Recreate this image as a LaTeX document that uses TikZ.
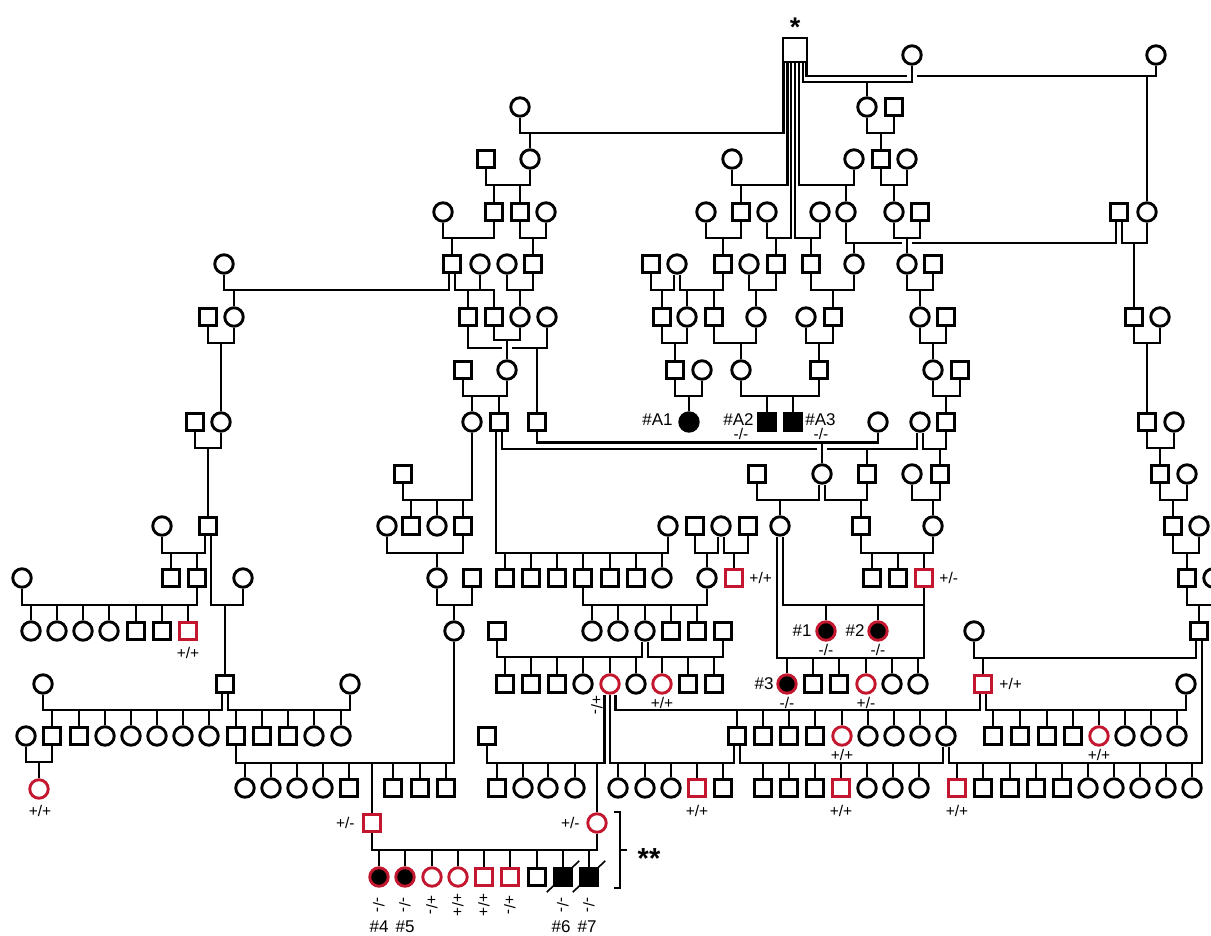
\documentclass[tikz,border=0pt]{standalone}
\usepackage{fontspec}
\setmainfont{Liberation Sans}
\usetikzlibrary{calc}
\definecolor{pedred}{RGB}{196,22,46}
\newcommand\cpl[3]{\draw (#1) -- (#1 |- 0,#3) -| (#2);}
\newcommand\dr[2]{\draw (#1.north |- 0,#2) -- (#1.north);}
\newcommand\drs[2]{\foreach \c in {#1} {\dr{\c}{#2}}}
\begin{document}
\begin{tikzpicture}[x=1pt,y=-1pt,line width=2.9pt,
 male/.style={draw,rectangle,minimum size=17.5pt,inner sep=0pt},
 fem/.style={draw,circle,minimum size=18.5pt,inner sep=0pt},
 maler/.style={male,draw=pedred}, femr/.style={fem,draw=pedred},
 malea/.style={male,fill=black}, fema/.style={fem,fill=black},
 femar/.style={fem,fill=black,draw=pedred},
 lbl/.style={inner sep=0pt,font=\fontsize{17}{17}\selectfont},
 gt/.style={inner sep=0pt,font=\fontsize{15.5}{15}\selectfont},
 gtr/.style={gt,rotate=-90}]
\fill[white] (0,0) rectangle (1211,936);
\useasboundingbox (0,0) rectangle (1211,936);
% ---------- persons ----------
\node[male,minimum size=24pt] (S) at (795,50) {};
\foreach \x in {912,1156} \node[fem] (A\x) at (\x,55) {};
\foreach \x in {520,867} \node[fem] (B\x) at (\x,107) {};
\node[male] (B894) at (894,107) {};
\foreach \x in {486,881} \node[male] (C\x) at (\x,159) {};
\foreach \x in {530,732,854,907} \node[fem] (C\x) at (\x,159) {};
\foreach \x in {494,520,741,920,1119} \node[male] (D\x) at (\x,212) {};
\foreach \x in {443,546,706,767,820,846,894,1147} \node[fem] (D\x) at (\x,212) {};
\foreach \x in {452,533,651,723,776,811,933} \node[male] (E\x) at (\x,264) {};
\foreach \x in {224,480,507,677,749,854,907} \node[fem] (E\x) at (\x,264) {};
\foreach \x in {208,468,494,662,714,833,946,1134} \node[male] (F\x) at (\x,317) {};
\foreach \x in {234,520,547,687,756,806,920,1160} \node[fem] (F\x) at (\x,317) {};
\foreach \x in {463,675,819,960} \node[male] (G\x) at (\x,370) {};
\foreach \x in {507,702,741,933} \node[fem] (G\x) at (\x,370) {};
\foreach \x in {195,499,537,946,1147} \node[male] (H\x) at (\x,422) {};
\foreach \x in {221,472,878,920,1174} \node[fem] (H\x) at (\x,422) {};
\node[fema] (H689) at (689,422) {};
\foreach \x in {767,793} \node[malea] (H\x) at (\x,422) {};
\foreach \x in {403,757,867,940,1160} \node[male] (I\x) at (\x,474) {};
\foreach \x in {822,912,1187} \node[fem] (I\x) at (\x,474) {};
\foreach \x in {208,411,463,695,748,861,1173} \node[male] (J\x) at (\x,526) {};
\foreach \x in {162,387,437,668,721,780,933,1199} \node[fem] (J\x) at (\x,526) {};
\foreach \x in {171,197,472,505,531,557,583,610,636,872,898,1187} \node[male] (K\x) at (\x,578) {};
\foreach \x in {22,243,437,662,707,1213} \node[fem] (K\x) at (\x,578) {};
\foreach \x in {734,924} \node[maler] (K\x) at (\x,578) {};
\foreach \x in {136,162,497,671,697,723,1199} \node[male] (L\x) at (\x,631) {};
\foreach \x in {31,57,83,109,454,592,618,645,974} \node[fem] (L\x) at (\x,631) {};
\node[maler] (L188) at (188,631) {};
\foreach \x in {826,878} \node[femar] (L\x) at (\x,631) {};
\foreach \x in {225,505,531,557,688,714,813,839} \node[male] (M\x) at (\x,684) {};
\foreach \x in {43,350,583,636,892,918,1186} \node[fem] (M\x) at (\x,684) {};
\foreach \x in {610,662,866} \node[femr] (M\x) at (\x,684) {};
\node[femar] (M787) at (787,684) {};
\node[maler] (M983) at (983,684) {};
\foreach \x in {52,79,236,262,288,487,737,763,789,815,993,1020,1047,1073} \node[male] (N\x) at (\x,736) {};
\foreach \x in {26,105,131,157,183,209,314,341,868,894,920,946,1125,1151,1177} \node[fem] (N\x) at (\x,736) {};
\foreach \x in {842,1099} \node[femr] (N\x) at (\x,736) {};
\node[femr] (O39) at (39,789) {};
\foreach \x in {349,393,420,446,497,723,763,789,815,983,1010,1036,1062} \node[male] (O\x) at (\x,788) {};
\foreach \x in {245,271,297,323,523,548,575,618,645,671,867,893,919,1088,1114,1140,1166,1192} \node[fem] (O\x) at (\x,788) {};
\foreach \x in {697,841,957} \node[maler] (O\x) at (\x,788) {};
\node[maler] (P372) at (372,823) {};
\node[femr] (P597) at (597,823) {};
\foreach \x in {379,405} \node[femar] (Q\x) at (\x,877) {};
\foreach \x in {432,458} \node[femr] (Q\x) at (\x,877) {};
\foreach \x in {484,510} \node[maler] (Q\x) at (\x,877) {};
\node[male] (Q537) at (537,877) {};
\foreach \x in {563,589} \node[malea] (Q\x) at (\x,877) {};
% ---------- anchor points for several lines ----------
\foreach \i/\s in {1/-11.5,2/-7.7,3/-3.9,4/0,5/3.9,6/7.8,7/11.6} \coordinate (S\i) at ([xshift=\s pt]S.south);
\foreach \n in {E452,E677,D1119,H499,H920,I822,J208,J721,J780,L645,L1199,M225,M983,N737,N946} {
 \coordinate (\n l) at ([xshift=-3pt]\n.south);
 \coordinate (\n r) at ([xshift=3pt]\n.south);}
\coordinate (M610a) at ([xshift=-5.2pt]M610.south);
\coordinate (M610b) at (M610.south);
\coordinate (M610c) at ([xshift=5.2pt]M610.south);
% ---------- lines: generation of S ----------
\begin{scope}[line width=2.4pt]
\cpl{S1}{B520.south}{133}
\cpl{S2}{C732.south}{185}
\cpl{S3}{D767.south}{238}
\cpl{S4}{D820.south}{238}
\cpl{S5}{C854.south}{185}
\cpl{S6}{A912.south}{82}
\draw (S7) -- (S7 |- 0,76) -- ($(A912.south |- 0,76)+(-5,0)$);
\draw ($(A912.south |- 0,76)+(5,0)$) -- (A1156.south |- 0,76) -- (A1156.south);
\end{scope}
\dr{C530}{133} \dr{D741}{185} \dr{E776}{238} \dr{E811}{238}
\dr{D846}{185} \dr{B867}{82} \dr{D1147}{76}
% ---------- upper rows ----------
\cpl{B867.south}{B894.south}{133} \dr{C881}{133}
\cpl{C486.south}{C530.south}{185} \drs{D494,D520}{185}
\cpl{C881.south}{C907.south}{185} \dr{D894}{185}
\cpl{D443.south}{D494.south}{238} \dr{E452}{238}
\cpl{D520.south}{D546.south}{238} \dr{E533}{238}
\cpl{D706.south}{D741.south}{238} \dr{E723}{238}
\cpl{D894.south}{D920.south}{238} \dr{E907}{238}
\draw (D846.south) -- (D846.south |- 0,243) -- ($(E907.north |- 0,243)+(-5,0)$);
\draw ($(E907.north |- 0,243)+(5,0)$) -- (D1119l |- 0,243) -- (D1119l);
\dr{E854}{243}
\cpl{D1119r}{D1147.south}{243} \dr{F1134}{243}
\cpl{E224.south}{E452l}{290} \dr{F234}{290}
\cpl{E452r}{E480.south}{290} \dr{F468}{290}
\draw (E480.south |- 0,290) -| (F494.north);
\cpl{E507.south}{E533.south}{290} \dr{F520}{290}
\cpl{E651.south}{E677l}{290} \dr{F662}{290}
\cpl{E677r}{E723.south}{290} \drs{F687,F714}{290}
\cpl{E749.south}{E776.south}{290} \dr{F756}{290}
\cpl{E811.south}{E854.south}{290} \dr{F833}{290}
\cpl{E907.south}{E933.south}{290} \dr{F920}{290}
\cpl{F208.south}{F234.south}{343} \dr{H221}{343}
\cpl{F494.south}{F520.south}{340} \dr{G507}{340}
\draw (F468.south) -- (F468.south |- 0,348) -- ($(G507.north |- 0,348)+(-5,0)$);
\draw ($(G507.north |- 0,348)+(5,0)$) -| (F547.south);
\dr{H537}{348}
\cpl{F662.south}{F687.south}{343} \dr{G675}{343}
\cpl{F714.south}{F756.south}{343} \dr{G741}{343}
\cpl{F806.south}{F833.south}{343} \dr{G819}{343}
\cpl{F920.south}{F946.south}{343} \dr{G933}{343}
\cpl{F1134.south}{F1160.south}{343} \dr{H1147}{343}
\cpl{G463.south}{G507.south}{396} \drs{H472,H499}{396}
\cpl{G675.south}{G702.south}{396} \dr{H689}{396}
\cpl{G741.south}{G819.south}{396} \drs{H767,H793}{396}
\cpl{G933.south}{G960.south}{396} \dr{H946}{396}
% ---------- middle rows ----------
\cpl{H195.south}{H221.south}{448} \dr{J208}{448}
\cpl{H537.south}{H878.south}{442.5} \dr{I822}{442.5}
\draw (H499r) -- (H499r |- 0,449) -- ($(I822.north |- 0,449)+(-5,0)$);
\draw ($(I822.north |- 0,449)+(5,0)$) -| (H920l);
\dr{I867}{449}
\cpl{H920r}{H946.south}{449} \dr{I940}{449}
\cpl{H1147.south}{H1174.south}{448} \dr{I1160}{448}
\cpl{H499l}{J668.south}{553} \drs{K505,K531,K557,K583,K610,K636,K662}{553}
\cpl{I403.south}{H472.south}{500} \drs{J411,J437,J463}{500}
\cpl{I757.south}{I822l}{500} \dr{J780}{500}
\cpl{I822r}{I867.south}{500} \dr{J861}{500}
\cpl{I912.south}{I940.south}{500} \dr{J933}{500}
\cpl{I1160.south}{I1187.south}{500} \dr{J1173}{500}
\cpl{J162.south}{J208l}{553} \drs{K171,K197}{553}
\cpl{J208r}{K243.south}{605} \dr{M225}{605}
\cpl{J387.south}{J463.south}{553} \dr{K437}{553}
\cpl{J695.south}{J721l}{553} \dr{K707}{553}
\cpl{J721r}{J748.south}{553} \dr{K734}{553}
\cpl{J780r}{K924.south}{605} \drs{L826,L878}{605}
\cpl{J780l}{K924.south}{658} \drs{M787,M813,M839,M866,M892,M918}{658}
\cpl{J861.south}{J933.south}{553} \drs{K872,K898,K924}{553}
\cpl{J1173.south}{J1199.south}{553} \dr{K1187}{553}
\cpl{K22.south}{K197.south}{605} \drs{L31,L57,L83,L109,L136,L162,L188}{605}
\cpl{K437.south}{K472.south}{605} \dr{L454}{605}
\cpl{K583.south}{K707.south}{605} \drs{L592,L618,L645,L671,L697}{605}
\cpl{K1187.south}{K1213.south}{605} \dr{L1199}{605}
% ---------- lower rows ----------
\cpl{L497.south}{L645l}{657} \drs{M505,M531,M557,M583,M610,M636}{657}
\cpl{L645r}{L723.south}{657} \drs{M662,M688,M714}{657}
\cpl{L974.south}{L1199l}{658} \dr{M983}{658}
\cpl{N236.south}{L454.south}{763} \drs{O245,O271,O297,O323,O349,P372,O393,O420,O446}{763}
\cpl{N946r}{L1199r}{763} \drs{O957,O983,O1010,O1036,O1062,O1088,O1114,O1140,O1166,O1192}{763}
\cpl{M43.south}{M225l}{710} \drs{N52,N79,N105,N131,N157,N183,N209}{710}
\cpl{M225r}{M350.south}{710} \drs{N236,N262,N288,N314,N341}{710}
\cpl{M610a}{N487.south}{763} \drs{O497,O523,O548,O575,P597}{763}
\cpl{M610b}{N737l}{763} \drs{O618,O645,O671,O697,O723}{763}
\cpl{M610c}{M983l}{710} \drs{N737,N763,N789,N815,N842,N868,N894,N920,N946}{710}
\cpl{M983r}{M1186.south}{710} \drs{N993,N1020,N1047,N1073,N1099,N1125,N1151,N1177}{710}
\cpl{N26.south}{N52.south}{762} \dr{O39}{762}
\cpl{N737r}{N946l}{763} \drs{O763,O789,O815,O841,O867,O893,O919}{763}
\cpl{P372.south}{P597.south}{850} \drs{Q379,Q405,Q432,Q458,Q484,Q510,Q537,Q563,Q589}{850}
% ---------- deceased marks, bracket ----------
\draw[line width=1.6pt] ($(Q563.south west)+(-6,5)$) -- ($(Q563.north east)+(6,-6)$);
\draw[line width=1.6pt] ($(Q589.south west)+(-6,5)$) -- ($(Q589.north east)+(6,-6)$);
\draw[line width=2pt] (614,812) -- (620,812) -- (620,888) -- (614,888);
\draw[line width=2pt] (620,850) -- (627,850);
% ---------- texts ----------
\node[font=\bfseries\fontsize{27}{27}\selectfont,inner sep=0pt,anchor=base] (star) at (795,37) {*};
\node[font=\bfseries\fontsize{29}{29}\selectfont,inner sep=0pt,anchor=base] (stars) at (649,868) {**};
\node[lbl,anchor=east] (tA1) at (674,420) {\#A1};
\node[lbl,anchor=east] (tA2) at (755,420) {\#A2};
\node[gt] (gA2) at (741,434) {-/-};
\node[lbl,anchor=west] (tA3) at (804,420) {\#A3};
\node[gt] (gA3) at (821,434) {-/-};
\node[lbl,anchor=east] (t1) at (813,631) {\#1};
\node[gt] (g1) at (826,650) {-/-};
\node[lbl,anchor=east] (t2) at (866,631) {\#2};
\node[gt] (g2) at (878,650) {-/-};
\node[lbl,anchor=east] (t3) at (775,684) {\#3};
\node[gt] (g3) at (787,703) {-/-};
\node[gt] (g188) at (188,653) {+/+};
\node[gt] (g39) at (40,811) {+/+};
\node[gt,anchor=west] (g734) at (748,578) {+/+};
\node[gt,anchor=west] (g924) at (938,578) {+/-};
\node[gt] (g662) at (662,703) {+/+};
\node[gt] (g866) at (866,703) {+/-};
\node[gt,anchor=west] (g983) at (998,684) {+/+};
\node[gt] (g842) at (842,755) {+/+};
\node[gt] (g1099) at (1099,755) {+/+};
\node[gt] (g697) at (697,811) {+/+};
\node[gt] (g841) at (841,811) {+/+};
\node[gt] (g957) at (957,811) {+/+};
\node[gt,anchor=east] (g372) at (356,823) {+/-};
\node[gt,anchor=east] (g597) at (581,823) {+/-};
\node[gtr] (g610) at (597,705) {+/-};
\node[gtr] (gq379) at (379,905) {-/-};
\node[gtr] (gq405) at (405,905) {-/-};
\node[gtr] (gq432) at (432,905) {+/-};
\node[gtr] (gq458) at (458,905) {+/+};
\node[gtr] (gq484) at (484,905) {+/+};
\node[gtr] (gq510) at (510,905) {+/-};
\node[gtr] (gq563) at (563,905) {-/-};
\node[gtr] (gq589) at (589,905) {-/-};
\node[lbl] (n4) at (379,927) {\#4};
\node[lbl] (n5) at (405,927) {\#5};
\node[lbl] (n6) at (561,927) {\#6};
\node[lbl] (n7) at (587,927) {\#7};
\end{tikzpicture}
\end{document}
